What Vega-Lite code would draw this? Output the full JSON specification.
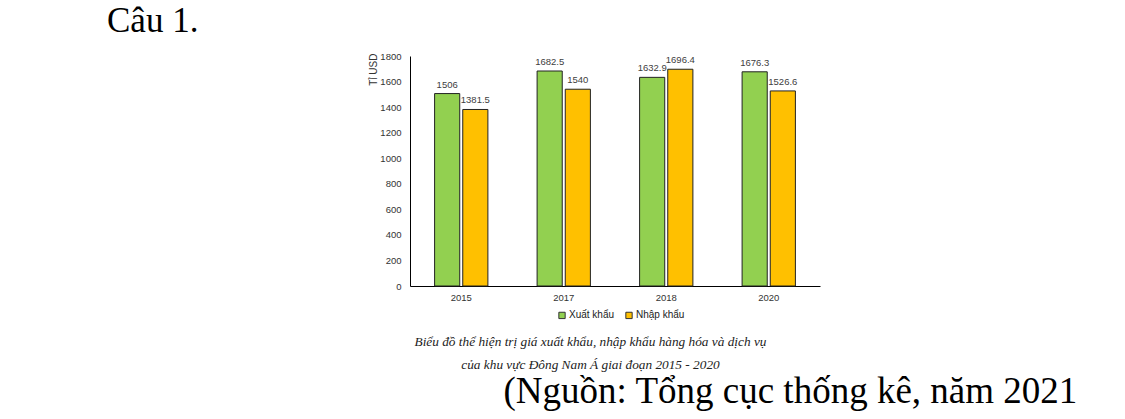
{
  "$schema": "https://vega.github.io/schema/vega-lite/v6.json",
  "width": 410,
  "height": 230,
  "autosize": "none",
  "padding": {"left": 410, "top": 56, "right": 305, "bottom": 133},
  "background": "white",
  "config": {"view": {"stroke": null}},
  "title": {
    "text": "Câu 1.",
    "orient": "top",
    "anchor": "start",
    "frame": "group",
    "dx": -303,
    "dy": 34,
    "offset": 18,
    "baseline": "alphabetic",
    "font": "Liberation Serif",
    "fontSize": 35,
    "fontWeight": "normal",
    "color": "black"
  },
  "data": {
    "values": [
      {"year": "2015", "type": "Xuất khẩu", "value": 1506},
      {"year": "2015", "type": "Nhập khẩu", "value": 1381.5},
      {"year": "2017", "type": "Xuất khẩu", "value": 1682.5},
      {"year": "2017", "type": "Nhập khẩu", "value": 1540},
      {"year": "2018", "type": "Xuất khẩu", "value": 1632.9},
      {"year": "2018", "type": "Nhập khẩu", "value": 1696.4},
      {"year": "2020", "type": "Xuất khẩu", "value": 1676.3},
      {"year": "2020", "type": "Nhập khẩu", "value": 1526.6}
    ]
  },
  "encoding": {
    "x": {
      "field": "year",
      "type": "nominal",
      "scale": {"paddingInner": 0.48, "paddingOuter": 0.24},
      "axis": {
        "labelAngle": 0,
        "labelFont": "Liberation Sans",
        "labelFontSize": 9.5,
        "labelColor": "#333333",
        "labelPadding": 6,
        "ticks": false,
        "domainColor": "#000000",
        "domainWidth": 1,
        "title": ["Biểu đồ thể hiện trị giá xuất khẩu, nhập khẩu hàng hóa và dịch vụ", "của khu vực Đông Nam Á giai đoạn 2015 - 2020"],
        "titleFont": "Liberation Serif",
        "titleFontStyle": "italic",
        "titleFontWeight": "normal",
        "titleFontSize": 13.3,
        "titleColor": "#222222",
        "titleLineHeight": 23,
        "titleX": 180,
        "titleY": 48,
        "titleAlign": "center",
        "titleBaseline": "top"
      }
    },
    "xOffset": {
      "field": "type",
      "type": "nominal",
      "scale": {"domain": ["Xuất khẩu", "Nhập khẩu"], "paddingInner": 0.107, "paddingOuter": 0}
    },
    "y": {
      "field": "value",
      "type": "quantitative",
      "scale": {"domain": [0, 1800], "nice": false}
    }
  },
  "layer": [
    {
      "mark": {"type": "bar", "stroke": "#222222", "strokeWidth": 1},
      "encoding": {
        "y": {
          "field": "value",
          "type": "quantitative",
          "scale": {"domain": [0, 1800], "nice": false},
          "axis": {
            "orient": "left",
            "values": [0, 200, 400, 600, 800, 1000, 1200, 1400, 1600, 1800],
            "format": "d",
            "grid": false,
            "ticks": false,
            "labelFont": "Liberation Sans",
            "labelFontSize": 9.5,
            "labelColor": "#333333",
            "labelPadding": 9,
            "domainColor": "#000000",
            "domainWidth": 1,
            "title": "Tỉ USD",
            "titleFont": "Liberation Sans",
            "titleFontSize": 10,
            "titleFontWeight": "normal",
            "titleColor": "#333333",
            "titleAngle": -90,
            "titleX": -37,
            "titleY": -3,
            "titleAlign": "right",
            "titleBaseline": "middle"
          }
        },
        "color": {
          "field": "type",
          "type": "nominal",
          "scale": {"domain": ["Xuất khẩu", "Nhập khẩu"], "range": ["#92D050", "#FFC000"]},
          "legend": {
            "orient": "none",
            "legendX": 147,
            "legendY": 254,
            "direction": "horizontal",
            "title": null,
            "symbolType": "square",
            "symbolSize": 40,
            "symbolStrokeColor": "#333333",
            "symbolStrokeWidth": 1,
            "symbolOpacity": 1,
            "labelFont": "Liberation Sans",
            "labelFontSize": 10,
            "labelColor": "#222222",
            "labelOffset": 2,
            "columnPadding": 8
          }
        }
      }
    },
    {
      "mark": {"type": "text", "baseline": "bottom", "dy": -4, "font": "Liberation Sans", "fontSize": 9.5, "color": "#404040"},
      "encoding": {
        "y": {
          "field": "value",
          "type": "quantitative",
          "scale": {"domain": [0, 1800], "nice": false},
          "axis": {
            "orient": "right",
            "labels": false,
            "ticks": false,
            "domain": false,
            "grid": false,
            "title": "(Nguồn: Tổng cục thống kê, năm 2021",
            "titleFont": "Liberation Serif",
            "titleFontSize": 37,
            "titleFontWeight": "normal",
            "titleColor": "#000000",
            "titleAngle": 0,
            "titleX": -317,
            "titleY": 346,
            "titleAlign": "left",
            "titleBaseline": "alphabetic"
          }
        },
        "text": {"field": "value", "type": "quantitative", "format": "~f"}
      }
    }
  ],
  "resolve": {"axis": {"y": "independent"}}
}
